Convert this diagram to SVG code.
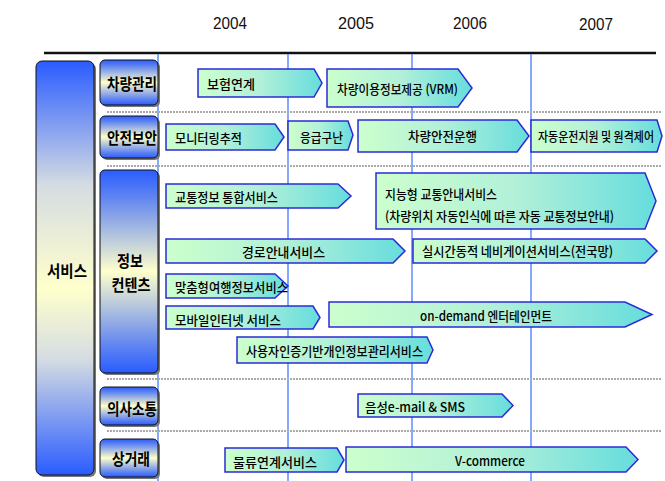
<svg xmlns="http://www.w3.org/2000/svg" width="665" height="481" viewBox="0 0 665 481">
<defs>
<linearGradient id="gArrow" x1="0" y1="0" x2="1" y2="0">
<stop offset="0" stop-color="#ccffcc"/>
<stop offset="0.5" stop-color="#b2f0d8"/>
<stop offset="1" stop-color="#66dddd"/>
</linearGradient>
<linearGradient id="gLabel" x1="0" y1="0" x2="0" y2="1">
<stop offset="0" stop-color="#2a5cff"/>
<stop offset="0.12" stop-color="#5a80f2"/>
<stop offset="0.5" stop-color="#ffffcc"/>
<stop offset="0.88" stop-color="#5a80f2"/>
<stop offset="1" stop-color="#2a5cff"/>
</linearGradient>
<linearGradient id="gBig" x1="0" y1="0" x2="0" y2="1">
<stop offset="0" stop-color="#2a5cff"/>
<stop offset="0.3" stop-color="#d5dce2"/>
<stop offset="0.55" stop-color="#ffffcc"/>
<stop offset="0.72" stop-color="#d5dce2"/>
<stop offset="1" stop-color="#2a5cff"/>
</linearGradient>
</defs>
<style>
.arr{fill:url(#gArrow);stroke:#2b2bd6;stroke-width:1.5;stroke-linejoin:miter}
.lab{fill:url(#gLabel);stroke:#111;stroke-width:1}
.shadow{fill:#777}
.t{font-family:"Noto Sans CJK KR","Liberation Sans",sans-serif;font-size:13px;font-weight:500;fill:#000;dominant-baseline:central}
.lt{font-family:"Noto Sans CJK KR","Liberation Sans",sans-serif;font-size:16px;font-weight:bold;fill:#000;dominant-baseline:central;text-anchor:middle}
.yr{font-family:"Liberation Sans",sans-serif;font-size:17px;fill:#111;dominant-baseline:central}
.sep{stroke:#aaaaaa;stroke-width:2;stroke-dasharray:2 1;fill:none}
.vl{stroke:#5b8cff;stroke-width:1.5}
</style>

<g id="timeline">
<line x1="44" y1="53" x2="656" y2="53" stroke="#111" stroke-width="2.5"/>
<text class="yr" x="213" y="23" textLength="34" lengthAdjust="spacingAndGlyphs">2004</text>
<text class="yr" x="338" y="23" textLength="36" lengthAdjust="spacingAndGlyphs">2005</text>
<text class="yr" x="453" y="23" textLength="34" lengthAdjust="spacingAndGlyphs">2006</text>
<text class="yr" x="579" y="24" textLength="34" lengthAdjust="spacingAndGlyphs">2007</text>
<line class="vl" x1="158" y1="54" x2="158" y2="481"/>
<line class="vl" x1="288" y1="54" x2="288" y2="481"/>
<line class="vl" x1="412" y1="54" x2="412" y2="481"/>
<line class="vl" x1="531" y1="54" x2="531" y2="481"/>
</g>

<g id="separators">
<line class="sep" x1="107" y1="112" x2="662" y2="112"/>
<line class="sep" x1="107" y1="166" x2="662" y2="166"/>
<line class="sep" x1="107" y1="379" x2="662" y2="379"/>
<line class="sep" x1="107" y1="431" x2="662" y2="431"/>
</g>

<g id="service">
<rect class="shadow" x="38" y="63" width="58" height="414" rx="6"/>
<rect x="36" y="61" width="58" height="414" rx="6" fill="url(#gBig)" stroke="#111" stroke-width="1"/>
<text class="lt" x="67" y="270" textLength="40" lengthAdjust="spacingAndGlyphs">서비스</text>
</g>

<g id="cat-vehicle">
<rect class="shadow" x="102" y="62" width="58" height="45" rx="5"/>
<rect class="lab" x="100" y="60" width="58" height="45" rx="5"/>
<text class="lt" x="132" y="83" textLength="50" lengthAdjust="spacingAndGlyphs">차량관리</text>
</g>
<g id="cat-safety">
<rect class="shadow" x="102" y="118" width="58" height="42" rx="5"/>
<rect class="lab" x="100" y="116" width="58" height="42" rx="5"/>
<text class="lt" x="132" y="137" textLength="50" lengthAdjust="spacingAndGlyphs">안전보안</text>
</g>
<g id="cat-info">
<rect class="shadow" x="102" y="172" width="58" height="203" rx="5"/>
<rect class="lab" x="100" y="170" width="58" height="203" rx="5"/>
<text class="lt" x="130" y="260" textLength="26" lengthAdjust="spacingAndGlyphs">정보</text>
<text class="lt" x="131" y="284" textLength="39" lengthAdjust="spacingAndGlyphs">컨텐츠</text>
</g>
<g id="cat-comm">
<rect class="shadow" x="102" y="389" width="58" height="38" rx="5"/>
<rect class="lab" x="100" y="387" width="58" height="38" rx="5"/>
<text class="lt" x="132" y="408" textLength="50" lengthAdjust="spacingAndGlyphs">의사소통</text>
</g>
<g id="cat-commerce">
<rect class="shadow" x="102" y="441" width="58" height="38" rx="5"/>
<rect class="lab" x="100" y="439" width="58" height="38" rx="5"/>
<text class="lt" x="131" y="458" textLength="38" lengthAdjust="spacingAndGlyphs">상거래</text>
</g>

<g id="n-insurance">
<path class="arr" d="M198 69 H314 L322 83 L314 97 H198 Z"/>
<text class="t" x="207" y="83" textLength="48" lengthAdjust="spacingAndGlyphs">보험연계</text>
</g>
<g id="n-vrm">
<path class="arr" d="M327 69 H458 L472 88 L458 107 H327 Z"/>
<text class="t" x="337" y="88" textLength="121" lengthAdjust="spacingAndGlyphs">차량이용정보제공 (VRM)</text>
</g>
<g id="n-monitor">
<path class="arr" d="M166 124 H275 L284 137 L275 150 H166 Z"/>
<text class="t" x="175" y="137" textLength="67" lengthAdjust="spacingAndGlyphs">모니터링추적</text>
</g>
<g id="n-rescue">
<path class="arr" d="M288 121 H348 L353 135 L348 150 H288 Z"/>
<text class="t" x="300" y="136" textLength="43" lengthAdjust="spacingAndGlyphs">응급구난</text>
</g>
<g id="n-safedrive">
<path class="arr" d="M358 120 H517 L529 136 L517 152 H358 Z"/>
<text class="t" x="408" y="135" textLength="69" lengthAdjust="spacingAndGlyphs">차량안전운행</text>
</g>
<g id="n-autodrive">
<path class="arr" d="M531 120 H657 L662 136 L657 152 H531 Z"/>
<text class="t" x="538" y="135" textLength="116" lengthAdjust="spacingAndGlyphs">자동운전지원 및 원격제어</text>
</g>
<g id="n-trafficinfo">
<path class="arr" d="M166 184 H338 L351 196 L338 208 H166 Z"/>
<text class="t" x="175" y="196" textLength="103" lengthAdjust="spacingAndGlyphs">교통정보 통합서비스</text>
</g>
<g id="n-intelligent">
<path class="arr" d="M376 173 H645 L656 201 L645 229 H376 Z"/>
<text class="t" x="385" y="193" textLength="112" lengthAdjust="spacingAndGlyphs">지능형 교통안내서비스</text>
<text class="t" x="385" y="215" textLength="229" lengthAdjust="spacingAndGlyphs">(차량위치 자동인식에 따른 자동 교통정보안내)</text>
</g>
<g id="n-route">
<path class="arr" d="M166 239 H393 L405 251 L393 263 H166 Z"/>
<text class="t" x="242" y="251" textLength="83" lengthAdjust="spacingAndGlyphs">경로안내서비스</text>
</g>
<g id="n-navi">
<path class="arr" d="M413 239 H645 L657 251 L645 263 H413 Z"/>
<text class="t" x="422" y="250" textLength="191" lengthAdjust="spacingAndGlyphs">실시간동적 네비게이션서비스(전국망)</text>
</g>
<g id="n-travel">
<path class="arr" d="M166 274 H275 L288 286 L275 298 H166 Z"/>
<text class="t" x="175" y="286" textLength="113" lengthAdjust="spacingAndGlyphs">맞춤형여행정보서비스</text>
</g>
<g id="n-mobile">
<path class="arr" d="M166 306 H313 L320 317.5 L313 329 H166 Z"/>
<text class="t" x="175" y="319" textLength="106" lengthAdjust="spacingAndGlyphs">모바일인터넷 서비스</text>
</g>
<g id="n-ondemand">
<path class="arr" d="M329 302 H625 L652 314.5 L625 327 H329 Z"/>
<text class="t" x="420" y="315" textLength="132" lengthAdjust="spacingAndGlyphs">on-demand 엔터테인먼트</text>
</g>
<g id="n-auth">
<path class="arr" d="M237 337 H427 L433 350 L427 363 H237 Z"/>
<text class="t" x="246" y="350" textLength="177" lengthAdjust="spacingAndGlyphs">사용자인증기반개인정보관리서비스</text>
</g>
<g id="n-voice">
<path class="arr" d="M358 394 H502 L513 405.5 L502 417 H358 Z"/>
<text class="t" x="365" y="406" textLength="100" lengthAdjust="spacingAndGlyphs">음성e-mail &amp; SMS</text>
</g>
<g id="n-logistics">
<path class="arr" d="M225 448 H337 L344 460 L337 472 H225 Z"/>
<text class="t" x="233" y="461" textLength="84" lengthAdjust="spacingAndGlyphs">물류연계서비스</text>
</g>
<g id="n-vcommerce">
<path class="arr" d="M346 447 H626 L638 459.5 L626 472 H346 Z"/>
<text class="t" x="455" y="460" textLength="70" lengthAdjust="spacingAndGlyphs">V-commerce</text>
</g>
</svg>
